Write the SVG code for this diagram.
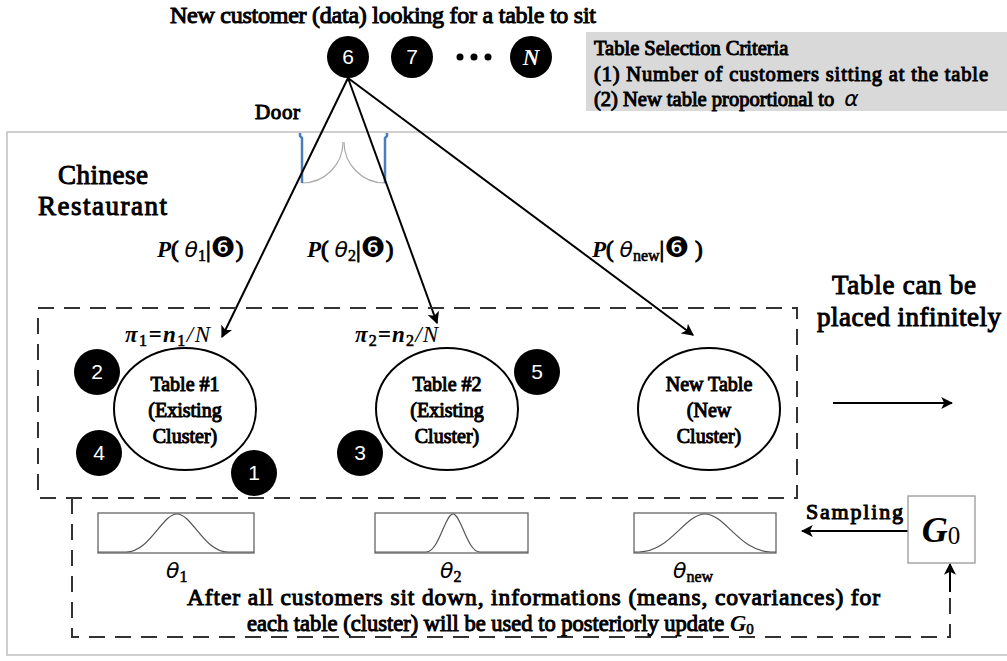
<svg xmlns="http://www.w3.org/2000/svg" width="1007" height="661" viewBox="0 0 1007 661" font-family="Liberation Serif, Times New Roman, serif">
  <defs>
    <style>
      .t { font-weight: normal; fill: #000; stroke: #000; stroke-width: 1; }
      .bi { font-weight: bold; font-style: italic; stroke: none; }
      .num { font-family: Liberation Sans, Arial, sans-serif; font-size: 21px; fill: #fff; text-anchor: middle; }
      .cust { fill: #000; }
      .tbl { fill: #fff; stroke: #000; stroke-width: 2; }
      .dash { fill: none; stroke: #333; stroke-width: 2; stroke-dasharray: 16 10; }
      .conn { fill: none; stroke: #000; stroke-width: 2; }
      .pdf { fill: #fff; stroke: #666; stroke-width: 1.3; }
      .curve { fill: none; stroke: #555; stroke-width: 1.2; }
      .th { font-family: DejaVu Sans, sans-serif; font-style: italic; font-weight: normal; font-size: 22px; stroke: none; }
      .dg { font-family: DejaVu Sans, sans-serif; font-weight: normal; stroke: none; }
      .sub { font-family: Liberation Serif, serif; font-style: normal; font-weight: normal; stroke: #000; stroke-width: 0.6; }
    </style>
    <marker id="ah" viewBox="0 0 10 10" refX="9" refY="5" markerWidth="6" markerHeight="6" orient="auto" markerUnits="strokeWidth">
      <path d="M0,0 L10,5 L0,10 L2.5,5 z" fill="#000"/>
    </marker>
  </defs>

  <rect width="1007" height="661" fill="#fff"/>

  <!-- restaurant outline (runs off the right edge) -->
  <rect id="restaurant" x="7" y="132" width="1010" height="523" fill="none" stroke="#c0c0c0" stroke-width="1.5"/>

  <!-- door -->
  <g id="door">
    <path d="M302,183 A41,41 0 0 0 343,142" fill="none" stroke="#aaa" stroke-width="1.2"/>
    <path d="M385,183 A41,41 0 0 1 344,142" fill="none" stroke="#aaa" stroke-width="1.2"/>
    <path d="M302,183 L302,138 L300,136 L300,133" fill="none" stroke="#4a7ebb" stroke-width="2.5"/>
    <path d="M385,183 L385,138 L387,136 L387,133" fill="none" stroke="#4a7ebb" stroke-width="2.5"/>
    <text class="t" x="255" y="119" font-size="21" textLength="45">Door</text>
  </g>

  <!-- title -->
  <text class="t" x="170" y="23" font-size="24" textLength="426">New customer (data) looking for a table to sit</text>

  <!-- selection criteria panel -->
  <g id="criteria">
    <rect x="586" y="32" width="421" height="79" fill="#d9d9d9"/>
    <text class="t" x="594" y="55" font-size="20.5" stroke-width="0.9">Table Selection Criteria</text>
    <text class="t" x="594" y="81" font-size="20.5" stroke-width="0.9" textLength="394">(1) Number of customers sitting at the table</text>
    <text class="t" x="594" y="106" font-size="20.5" stroke-width="0.9">(2) New table proportional to <tspan class="th" font-size="19" dx="5">α</tspan></text>
  </g>

  <!-- waiting customers -->
  <g id="c6"><circle class="cust" cx="348" cy="57" r="21"/><text class="num" x="348" y="64">6</text></g>
  <g id="c7"><circle class="cust" cx="412" cy="57" r="21"/><text class="num" x="412" y="64">7</text></g>
  <g id="dots"><circle cx="460" cy="57" r="3.5"/><circle cx="474" cy="57" r="3.5"/><circle cx="488" cy="57" r="3.5"/></g>
  <g id="cN"><circle class="cust" cx="531" cy="57" r="21"/><text x="531" y="65" text-anchor="middle" font-style="italic" font-weight="bold" font-size="23" fill="#fff">N</text></g>

  <!-- restaurant label -->
  <text class="t" x="58" y="184" font-size="27" stroke-width="1.1" textLength="90">Chinese</text>
  <text class="t" x="38" y="215" font-size="27" stroke-width="1.1" textLength="129">Restaurant</text>

  <!-- connectors -->
  <g id="connectors">
    <line class="conn" x1="348" y1="78" x2="222" y2="337" marker-end="url(#ah)"/>
    <line class="conn" x1="348" y1="78" x2="437" y2="323" marker-end="url(#ah)"/>
    <line class="conn" x1="348" y1="78" x2="693" y2="335" marker-end="url(#ah)"/>
    <line class="conn" x1="833" y1="403" x2="952" y2="403" marker-end="url(#ah)"/>
    <line class="conn" x1="908" y1="531" x2="802" y2="531" marker-end="url(#ah)"/>
    <path class="dash" d="M72,498 L72,637 L950,637 L950,590"/>
    <line class="conn" x1="950" y1="592" x2="950" y2="564" marker-end="url(#ah)"/>
  </g>

  <!-- probability labels -->
  <text class="t" x="157" y="257" font-size="23" stroke-width="0.8"><tspan class="bi">P</tspan>( <tspan class="th" font-size="23">θ</tspan><tspan class="sub" font-size="16" dy="4">1</tspan><tspan dy="-4">|</tspan><tspan class="dg" font-size="28">❻</tspan>)</text>
  <text class="t" x="307" y="257" font-size="23" stroke-width="0.8"><tspan class="bi">P</tspan>( <tspan class="th" font-size="23">θ</tspan><tspan class="sub" font-size="16" dy="4">2</tspan><tspan dy="-4">|</tspan><tspan class="dg" font-size="28">❻</tspan>)</text>
  <text class="t" x="592" y="257" font-size="23" stroke-width="0.8"><tspan class="bi">P</tspan>( <tspan class="th" font-size="23">θ</tspan><tspan class="sub" font-size="16" dy="4">new</tspan><tspan dy="-4">|</tspan><tspan class="dg" font-size="28">❻</tspan> )</text>

  <!-- table area -->
  <rect class="dash" x="38" y="308" width="759" height="190"/>

  <text x="125" y="342" font-size="23" textLength="85"><tspan class="bi">π</tspan><tspan class="sub" font-size="16" dy="4">1</tspan><tspan class="bi" dy="-4">=n</tspan><tspan class="sub" font-size="16" dy="4">1</tspan><tspan dy="-4" font-style="italic">/N</tspan></text>
  <text x="355" y="342" font-size="23" textLength="83"><tspan class="bi">π</tspan><tspan class="sub" font-size="16" dy="4">2</tspan><tspan class="bi" dy="-4">=n</tspan><tspan class="sub" font-size="16" dy="4">2</tspan><tspan dy="-4" font-style="italic">/N</tspan></text>

  <g id="table1">
    <ellipse class="tbl" cx="185" cy="409" rx="71" ry="61"/>
    <text class="t" font-size="20" stroke-width="0.9" text-anchor="middle"><tspan x="185" y="391">Table #1</tspan><tspan x="185" y="417">(Existing</tspan><tspan x="185" y="443">Cluster)</tspan></text>
  </g>
  <g id="table2">
    <ellipse class="tbl" cx="447" cy="409" rx="71" ry="61"/>
    <text class="t" font-size="20" stroke-width="0.9" text-anchor="middle"><tspan x="447" y="391">Table #2</tspan><tspan x="447" y="417">(Existing</tspan><tspan x="447" y="443">Cluster)</tspan></text>
  </g>
  <g id="table-new">
    <ellipse class="tbl" cx="709" cy="409" rx="71" ry="61"/>
    <text class="t" font-size="20" stroke-width="0.9" text-anchor="middle"><tspan x="709" y="391">New Table</tspan><tspan x="709" y="417">(New</tspan><tspan x="709" y="443">Cluster)</tspan></text>
  </g>

  <g id="c2"><circle class="cust" cx="97" cy="372" r="23"/><text class="num" x="97" y="379">2</text></g>
  <g id="c4"><circle class="cust" cx="99" cy="453" r="23"/><text class="num" x="99" y="460">4</text></g>
  <g id="c1"><circle class="cust" cx="254" cy="473" r="23"/><text class="num" x="254" y="480">1</text></g>
  <g id="c3"><circle class="cust" cx="360" cy="453" r="23"/><text class="num" x="360" y="460">3</text></g>
  <g id="c5"><circle class="cust" cx="537" cy="372" r="23"/><text class="num" x="537" y="379">5</text></g>

  <!-- infinite tables -->
  <text class="t" x="832" y="294" font-size="27" stroke-width="1.1" textLength="144">Table can be</text>
  <text class="t" x="817" y="326" font-size="27" stroke-width="1.1" textLength="184">placed infinitely</text>

  <!-- cluster parameter densities -->
  <g id="pdf1">
    <rect class="pdf" x="98" y="513" width="156" height="40"/>
    <path class="curve" d="M98,552 L126,552 C150,552 162,514 177,514 S204,552 228,552 L254,552"/>
    <text x="166" y="578" class="th">θ<tspan class="sub" font-size="16" dy="4">1</tspan></text>
  </g>
  <g id="pdf2">
    <rect class="pdf" x="375" y="513" width="153" height="40"/>
    <path class="curve" d="M375,552 L426,552 C439,552 445,514 453,514 S467,552 480,552 L528,552"/>
    <text x="440" y="578" class="th">θ<tspan class="sub" font-size="16" dy="4">2</tspan></text>
  </g>
  <g id="pdfnew">
    <rect class="pdf" x="634" y="513" width="142" height="40"/>
    <path class="curve" d="M634,552 L639,552 C670,552 685,514 705,514 S740,552 771,552 L776,552"/>
    <text x="673" y="578" class="th">θ<tspan class="sub" font-size="16" dy="4">new</tspan></text>
  </g>

  <!-- base distribution -->
  <g id="g0">
    <rect x="908" y="496" width="67" height="67" fill="#fff" stroke="#999" stroke-width="1.3"/>
    <text x="941" y="542" font-size="36" text-anchor="middle"><tspan class="bi">G</tspan><tspan font-size="25" dy="2">0</tspan></text>
  </g>
  <text class="t" x="806" y="519" font-size="22" textLength="97">Sampling</text>

  <!-- update note -->
  <text class="t" x="187" y="605" font-size="23.5" textLength="693">After all customers sit down, informations (means, covariances) for</text>
  <text class="t" x="247" y="631" font-size="22.5">each table (cluster) will be used to posteriorly update <tspan class="bi">G</tspan><tspan class="sub" font-size="15" dy="3">0</tspan></text>
</svg>
